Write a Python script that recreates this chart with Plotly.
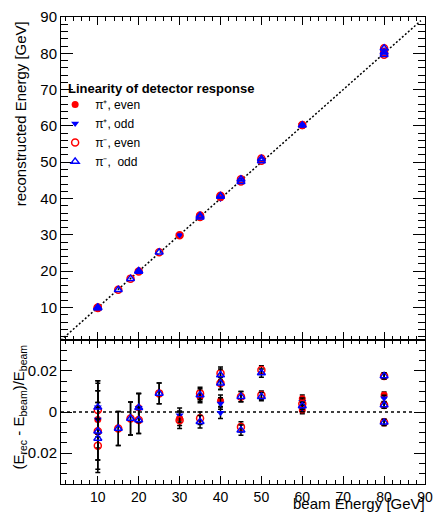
import plotly.graph_objects as go
from plotly.subplots import make_subplots

# ---------------- data ----------------
pip_even_E   = [10, 20, 30, 35, 40, 60, 60, 80]
pip_even_r   = [-0.0036, 0.0021, -0.0030, 0.0075, 0.0055, 0.0065, 0.0010, 0.0083]
pip_even_err = [0.014, 0.007, 0.0035, 0.003, 0.0028, 0.0018, 0.0018, 0.0015]

pip_odd_E   = [10, 10, 20, 30, 40, 40, 60, 60, 80]
pip_odd_r   = [0.0023, -0.0036, 0.0021, -0.0015, 0.0042, -0.0003, 0.0050, 0.0020, 0.0067]
pip_odd_err = [0.013, 0.014, 0.007, 0.0035, 0.0028, 0.0028, 0.0018, 0.0018, 0.0015]

pim_even_E   = [10, 10, 10, 15, 18, 20, 25, 30, 35, 35, 40, 40, 45, 45, 50, 50, 60, 80, 80, 80]
pim_even_r   = [0.0010, -0.0093, -0.0164, -0.0080, -0.0031, -0.0039, 0.0091, -0.0040, 0.0091, -0.0030,
                0.0189, 0.0140, 0.0075, -0.0072, 0.0205, 0.0083, 0.0040, 0.0176, 0.0034, -0.0050]
pim_even_err = [0.013, 0.014, 0.013, 0.0083, 0.008, 0.0065, 0.005, 0.004, 0.003, 0.003,
                0.003, 0.003, 0.0025, 0.0025, 0.002, 0.002, 0.0018, 0.0015, 0.0015, 0.0015]

pim_odd_E   = [10, 10, 10, 15, 18, 20, 20, 25, 35, 35, 40, 40, 45, 45, 50, 50, 60, 80, 80, 80]
pim_odd_r   = [0.0023, -0.0093, -0.0128, -0.0080, -0.0031, 0.0021, -0.0039, 0.0091, 0.0083, -0.0047,
               0.0180, 0.0140, 0.0075, -0.0088, 0.0190, 0.0075, 0.0030, 0.0176, 0.0034, -0.0050]
pim_odd_err = [0.013, 0.014, 0.015, 0.0083, 0.008, 0.007, 0.0065, 0.005, 0.003, 0.003,
               0.003, 0.003, 0.0025, 0.0025, 0.002, 0.002, 0.0018, 0.0015, 0.0015, 0.0015]

series = [
    ("π⁺, even", pip_even_E, pip_even_r, pip_even_err, "circle", "#ff0000", True),
    ("π⁺, odd", pip_odd_E, pip_odd_r, pip_odd_err, "triangle-down", "#0000ff", True),
    ("π⁻, even", pim_even_E, pim_even_r, pim_even_err, "circle-open", "#ff0000", False),
    ("π⁻,  odd", pim_odd_E, pim_odd_r, pim_odd_err, "triangle-up-open", "#0000ff", False),
]

x_range = [1, 90]
top_range = [1, 90]
bot_range = [-0.035, 0.035]
bot_ticks = [-0.02, 0, 0.02]
bot_ticktext = ["-0.02", "0", "0.02"]

FONT = "Liberation Sans, Arial, Helvetica, sans-serif"
W, H = 441, 514
ML, MR, MT, MB = 61, 8, 10, 30
split = (484 - 338) / (H - MT - MB)

fig = make_subplots(rows=2, cols=1, shared_xaxes=True, vertical_spacing=0)

for name, E, r, err, sym, col, filled in series:
    reco = [e * (1 + v) for e, v in zip(E, r)]
    mk = dict(symbol=sym, color=col, size=7,
              line=dict(color=col, width=1.5 if not filled else 0))
    fig.add_trace(go.Scatter(x=E, y=reco, mode="markers", name=name, marker=mk,
                             showlegend=True), row=1, col=1)
    fig.add_trace(go.Scatter(x=E, y=r, mode="markers", name=name, marker=mk,
                             showlegend=False,
                             error_y=dict(type="data", array=err, color="black",
                                          thickness=1.5, width=2.5)), row=2, col=1)

axis_common = dict(showline=True, linecolor="black", linewidth=1, mirror="allticks",
                   ticks="inside", tickcolor="black", showgrid=False, zeroline=False)

fig.update_xaxes(range=x_range, dtick=10, tick0=0, ticklen=8,
                 minor=dict(dtick=2, ticklen=4, ticks="inside", tickcolor="black"),
                 tickfont=dict(family=FONT, size=14, color="black"),
                 **axis_common)
fig.update_xaxes(showticklabels=False, row=1, col=1)
fig.update_xaxes(showticklabels=True, ticklabelstandoff=0, row=2, col=1)

fig.update_yaxes(range=top_range, dtick=10, tick0=0, ticklen=12,
                 minor=dict(dtick=2, ticklen=7, ticks="inside", tickcolor="black"),
                 tickfont=dict(family=FONT, size=15, color="black"),
                 domain=[split, 1], row=1, col=1, **axis_common)
fig.update_yaxes(range=bot_range, tickvals=bot_ticks, ticktext=bot_ticktext, ticklen=11,
                 minor=dict(dtick=0.005, tick0=0, ticklen=6, ticks="inside", tickcolor="black"),
                 tickfont=dict(family=FONT, size=15, color="black"),
                 domain=[0, split], row=2, col=1, **axis_common)

# reference lines
fig.add_shape(type="line", xref="x", yref="y", x0=1, y0=1, x1=89, y1=89,
              line=dict(color="black", width=1.5, dash="2px,2px"), layer="below")
fig.add_shape(type="line", xref="x2", yref="y2", x0=1, y0=0, x1=87.5, y1=0,
              line=dict(color="black", width=1.5, dash="3px,3px"), layer="below")

def px2x(p):
    return (p - ML) / (W - ML - MR)

def py2y(p):
    return (H - MB - p) / (H - MT - MB)

fig.add_annotation(text="reconstructed Energy [GeV]", textangle=-90, xref="paper", yref="paper",
                   x=px2x(20), y=py2y(12), xanchor="center", yanchor="top", showarrow=False,
                   font=dict(family=FONT, size=15, color="black"))
fig.add_annotation(text="(E<sub>rec</sub> - E<sub>beam</sub>)/E<sub>beam</sub>", textangle=-90,
                   xref="paper", yref="paper", x=px2x(19), y=py2y(340), xanchor="center",
                   yanchor="top", showarrow=False, font=dict(family=FONT, size=15, color="black"))
fig.add_annotation(text="beam Energy [GeV]", xref="paper", yref="paper", x=px2x(435),
                   y=py2y(504), xanchor="right", yanchor="middle", showarrow=False,
                   font=dict(family=FONT, size=15, color="black"))
fig.add_annotation(text="<b>Linearity of detector response</b>", xref="paper", yref="paper",
                   x=px2x(66), y=py2y(83), xanchor="left", yanchor="middle", showarrow=False,
                   font=dict(family=FONT, size=13, color="black"))

fig.update_layout(
    width=W, height=H, margin=dict(l=ML, r=MR, t=MT, b=MB),
    plot_bgcolor="white", paper_bgcolor="white",
    font=dict(family=FONT, color="black"),
    legend=dict(x=px2x(55), y=py2y(84), xanchor="left", yanchor="top",
                bgcolor="rgba(0,0,0,0)", font=dict(family=FONT, size=12, color="black"),
                tracegroupgap=0, itemwidth=30),
)

fig.write_html("out.html")
